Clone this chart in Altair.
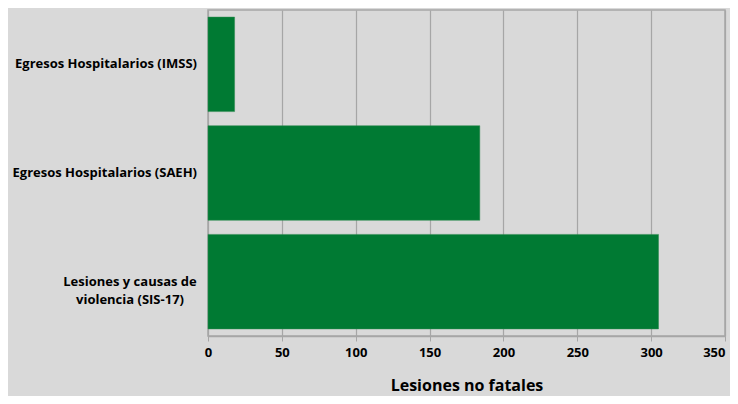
import altair as alt
import pandas as pd

categories = ["Egresos Hospitalarios (IMSS)", "Egresos Hospitalarios (SAEH)", "Lesiones y causas de violencia (SIS-17)"]
values = [18, 184, 305]
label_lines = [["Egresos Hospitalarios (IMSS)"], ["Egresos Hospitalarios (SAEH)"], ["Lesiones y causas de", "violencia (SIS-17)"]]
x_ticks = [0, 50, 100, 150, 200, 250, 300, 350]
x_title = "Lesiones no fatales"

df = pd.DataFrame({"cat": categories, "val": values, "lines": label_lines,
                   "nlines": [len(l) for l in label_lines]})

FONT = "Open Sans"
GRID = "#a6a6a6"

yscale = alt.Scale(domain=categories, paddingInner=0.13, paddingOuter=0.065)

bars = alt.Chart(df).mark_bar(color="#007A33", stroke="#2e8b50", strokeWidth=0.5).encode(
    x=alt.X("val:Q", scale=alt.Scale(domain=[0, 350], nice=False),
            axis=alt.Axis(values=x_ticks, grid=True, gridColor=GRID, gridWidth=1.2,
                          domainColor=GRID, domainWidth=1.5, tickColor=GRID, tickSize=5,
                          labelFont=FONT, labelFontSize=13, labelFontWeight="bold",
                          labelColor="#000000", labelPadding=5, labelFlush=False,
                          labelBound=False, labelOverlap=False,
                          labelAlign=alt.ExprRef(expr="datum.value == 350 ? 'right' : 'center'"),
                          title=x_title, titleFont=FONT, titleFontSize=16,
                          titleFontWeight="bold", titleColor="#000000",
                          titleY=54, titleBaseline="alphabetic")),
    y=alt.Y("cat:N", sort=categories, scale=yscale,
            axis=alt.Axis(labels=False, title=None, grid=False, bandPosition=0,
                          domainColor=GRID, domainWidth=2, tickColor=GRID, tickSize=4)),
)

single = alt.Chart(df).transform_filter("datum.nlines == 1").mark_text(
    align="right", baseline="middle", font=FONT, fontSize=13, fontWeight="bold",
    color="#000000", dx=-11).encode(
    x=alt.value(0),
    y=alt.Y("cat:N", sort=categories, scale=yscale, axis=None),
    text="lines",
)

multi = alt.Chart(df).transform_filter("datum.nlines > 1").mark_text(
    align="center", baseline="middle", font=FONT, fontSize=13, fontWeight="bold",
    color="#000000", dx=-78, lineHeight=18).encode(
    x=alt.value(0),
    y=alt.Y("cat:N", sort=categories, scale=yscale, axis=None),
    text="lines",
)

chart = alt.layer(bars, single, multi).properties(
    width=517, height=326,
    autosize=alt.AutoSizeParams(type="none"),
    padding={"left": 200, "top": 2, "right": 5, "bottom": 60},
    background="#d9d9d9",
).configure_view(stroke=GRID, strokeWidth=1.5)

chart.save("out.html", embed_options={"renderer": "svg", "actions": False})
